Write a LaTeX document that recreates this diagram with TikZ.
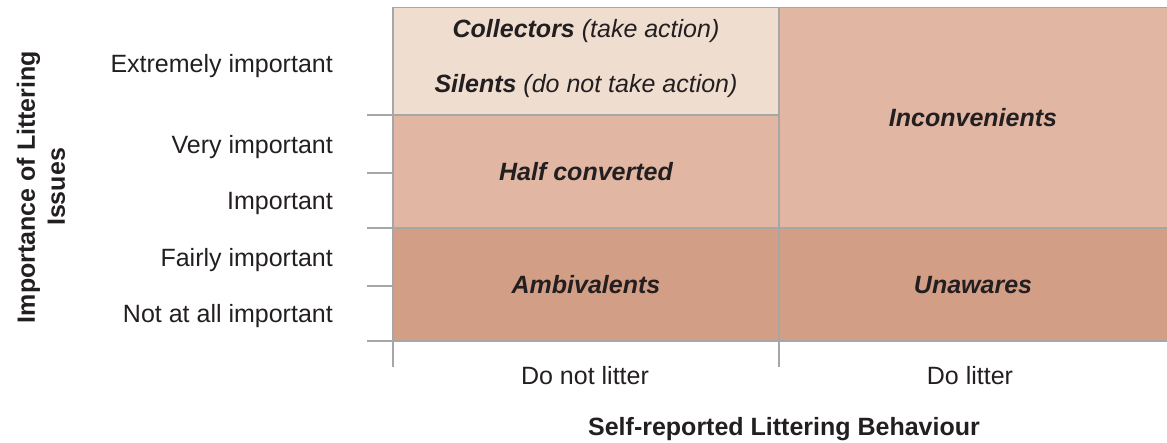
\documentclass[tikz,border=0pt]{standalone}
\usepackage{fontspec}
\setmainfont{Liberation Sans}
\usetikzlibrary{positioning,calc}
\definecolor{cellpale}{HTML}{EFDDD0}
\definecolor{cellmid}{HTML}{E1B6A3}
\definecolor{celldark}{HTML}{D39E86}
\definecolor{gridgray}{HTML}{A6A6A6}
\definecolor{inkdark}{HTML}{231F20}

\begin{document}
\begin{tikzpicture}[
  x=1pt, y=-1pt,
  font=\fontsize{25}{30}\selectfont,
  text=inkdark,
  gridline/.style={draw=gridgray, line width=1.3pt},
  cell/.style={inner sep=0pt, outer sep=0pt, anchor=north west},
  celltext/.style={anchor=base, inner sep=0pt, font=\fontsize{25}{30}\selectfont\bfseries\itshape},
  level/.style={anchor=base east, inner sep=0pt},
  group/.style={anchor=base, inner sep=0pt},
  axistitle/.style={inner sep=0pt, align=center, font=\fontsize{25}{30}\selectfont\bfseries}
]
\useasboundingbox (0,0) rectangle (1167,442);

% cells of the matrix
\node[cell, fill=cellpale, minimum width=386pt, minimum height=108pt] (collect) at (393,7) {};
\node[cell, fill=cellmid, minimum width=386pt, minimum height=113pt] (half) at (393,115) {};
\node[cell, fill=cellmid, minimum width=388pt, minimum height=221pt] (incon) at (779,7) {};
\node[cell, fill=celldark, minimum width=386pt, minimum height=113pt] (ambi) at (393,228) {};
\node[cell, fill=celldark, minimum width=388pt, minimum height=113pt] (unaw) at (779,228) {};

\node[celltext] (collecttxt) at ($(collect.center)+(0,-24)$) {Collectors \textmd{(take action)}};
\node[celltext] (silenttxt) at ($(collect.center)+(0,31)$) {Silents \textmd{(do not take action)}};
\node[celltext] (halftxt) at ($(half.center)+(0,9)$) {Half converted};
\node[celltext] (incontxt) at ($(incon.center)+(0,9)$) {Inconvenients};
\node[celltext] (ambitxt) at ($(ambi.center)+(0,9)$) {Ambivalents};
\node[celltext] (unawtxt) at ($(unaw.center)+(0,9)$) {Unawares};

% grid and ticks
\coordinate (tickA) at (367,173);
\coordinate (tickB) at (367,286);
\draw[gridline, line width=0.6pt] (collect.north west) -- (incon.north east);
\draw[gridline] ([xshift=-26pt]collect.south west) -- (collect.south east);
\draw[gridline] (tickA) -- (tickA -| half.west);
\draw[gridline] ([xshift=-26pt]ambi.north west) -- (unaw.north east);
\draw[gridline] (tickB) -- (tickB -| ambi.west);
\draw[gridline] ([xshift=-26pt]ambi.south west) -- (unaw.south east);
\draw[gridline] (collect.north west) -- ([yshift=-26pt]ambi.south west);
\draw[gridline] (incon.north west) -- ([yshift=-26pt]unaw.south west);

% levels of importance
\node[level] (lvl5) at (333,72) {Extremely important};
\node[level] (lvl4) at (333,153) {Very important};
\node[level] (lvl3) at (333,209) {Important};
\node[level] (lvl2) at (333,266) {Fairly important};
\node[level] (lvl1) at (333,322) {Not at all important};

% behaviour groups
\node[group] (nolitter) at (585,384) {Do not litter};
\node[group] (litter) at (970,384) {Do litter};

\node[axistitle, anchor=base] (xtitle) at (784,435) {Self-reported Littering Behaviour};
\node[axistitle, rotate=90] (ytitle) at (41,187) {Importance of Littering\\Issues};
\end{tikzpicture}
\end{document}
